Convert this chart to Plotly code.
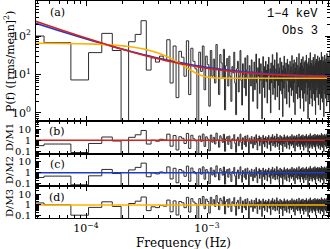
import numpy as np
import plotly.graph_objects as go

# ---------------- data ----------------
df_hz = 3.0e-5            # frequency resolution (1/T)
power = [
    100, 67, 7.2, 37, 117, 42, 0.3, 71, 110, 250, 13, 27, 21, 30,
    24, 80, 6, 55, 2.5, 40, 28, 9, 75, 3, 48, 22, 14, 0.4, 38,
    12, 55, 4, 30, 18, 1.5, 42, 9, 25, 6, 60, 14, 3, 33, 20, 8, 45, 1.2, 17, 26,
    5, 30, 9, 2, 16, 11, 38, 6, 0.9, 14, 22, 3.5, 9, 42, 7, 1.6, 19, 10, 4.5, 27, 2.8, 13, 31, 8, 0.5, 17, 10, 5, 24, 12,
    2, 8, 21, 4, 11, 34, 6, 1.3, 15, 9, 26, 3.2, 7, 19, 12, 0.7, 10, 29, 4.6, 16, 2.5, 8, 22, 6.5, 13, 1.8, 18, 9.5, 28, 4, 7.5, 14, 1, 20, 6, 11, 33, 3, 9, 17,
    4.5, 24, 2.2, 10, 14, 6.8, 37, 2.6, 8, 19, 5.2, 12, 1.2, 15, 27, 3.8, 9.8, 6.6, 21, 3.1, 13, 0.8, 17, 8.2, 4.4, 30, 10.5, 2.4, 14.5, 7.3, 20, 5.4, 1.7, 11.5, 25, 6.9, 9, 3.5, 18, 13.5,
    1.4, 8.4, 22, 4.6, 10.8, 16, 2.8, 6.9, 31, 9.7, 3.9, 12.8, 19, 1.9, 7.6, 24, 6.1, 11.4, 0.9, 14.6, 9.1, 20.5, 3.2, 5.4, 28, 12.2, 7.5, 2.3, 17.5, 9.9, 4.7, 13.6, 35, 2.5, 8.3, 15.4, 6.1, 1.3, 20, 10.6,
    6.8, 25, 3.9, 12.1, 16.8, 2.4, 9.2, 29, 5.4, 14.5, 1.1, 10.7, 20.6, 7.6, 3.2, 16, 23, 4.6, 9.9, 2, 13, 32, 6.1, 8.4, 19, 3, 11.4, 15.2, 0.7, 21.3, 9.1, 4.6, 26.6, 12.2, 6.9, 1.7, 17.5, 10.6, 37, 3.9,
    8.4, 14.5, 2.4, 19.8, 9.9, 6.1, 23.6, 1.5, 12.9, 16.8, 4.6, 7.6, 28, 3.1, 11.4, 18.3, 6.9, 2.1, 15.2, 9.1, 33.5, 5.4, 12.2, 0.9, 21.3, 8.4, 3.9, 25, 13.7, 6.1, 9.9, 2.5, 19, 11.4, 30.4, 4.6, 7.6, 16, 1.6, 22,
    10.6, 5.4, 13.7, 27.4, 3.1, 9.1, 18.3, 6.9, 1.2, 23.6, 12.2, 4.6, 15.2, 8.4, 38, 2.4, 10.6, 20.6, 6.1, 12.9, 1.9, 16.8, 29, 7.6, 3.9, 14.5, 9.9, 22.8, 0.8, 11.4, 19, 5.4, 9.1, 32, 3.1, 13.7, 6.9, 21.3, 2.4, 16,
    8.4, 25.8, 4.6, 12.2, 18.3, 1.5, 9.9, 35, 6.1, 14.5, 3.1, 20.6, 10.6, 7.6, 29, 2.1, 12.9, 16.8, 5.4, 23.6, 9.1, 3.9, 19.8, 11.4, 1, 15.2, 42, 6.9, 10.6, 2.7, 22, 13.7, 4.6, 17.5, 8.4, 30.4, 1.6, 12.2, 19, 6.1,
]
freq = df_hz * np.arange(1, len(power) + 1)

# model parameters
m1_norm, m1_index, m1_const = 2.65e-3, 1.12, 8.4          # power law + constant
m2_norm, m2_index, m2_const = 5.45e-3, 1.036, 8.4         # power law + constant
m3_amp, m3_width, m3_const = 57.0, 4.7e-4, 8.0           # low-frequency hump + constant

x_tick_vals = [1e-4, 1e-3, 1e-2]
x_tick_text = ["10<sup>\u22124</sup>", "10<sup>\u22123</sup>", "10<sup>\u22122</sup>"]
ya_tick_vals = [1, 10, 100]
ya_tick_text = ["10<sup>0</sup>", "10<sup>1</sup>", "10<sup>2</sup>"]
yr_tick_vals = [0.1, 1, 10]
yr_tick_text = ["0.1", "1", "10"]

RED = "rgb(214,32,32)"
BLUE = "rgb(30,60,200)"
ORANGE = "rgb(255,176,0)"
DATA_C = "rgb(45,45,45)"
FONT = "DejaVu Serif"
MONO = "Liberation Mono"

P = np.array(power, dtype=float)
m1 = m1_norm * freq ** (-m1_index) + m1_const
m2 = m2_norm * freq ** (-m2_index) + m2_const
m3 = m3_amp * np.exp(-(freq / m3_width) ** 2) + m3_const

# histogram-style steps: each bin spans halfway to its neighbours
step_x = np.concatenate([freq - df_hz / 2, [freq[-1] + df_hz / 2]])
def steps(vals):
    return np.concatenate([vals, [vals[-1]]])

fig = go.Figure()

def add(x, y, color, width, ax, shape="linear"):
    fig.add_trace(go.Scatter(x=x, y=y, mode="lines",
                             line=dict(color=color, width=width, shape=shape, simplify=False),
                             xaxis="x" if ax == 1 else f"x{ax}", yaxis="y" if ax == 1 else f"y{ax}",
                             showlegend=False, hoverinfo="skip"))

# panel (a)
add(step_x, steps(P), DATA_C, 1, 1, "hv")
add(freq, m2, BLUE, 1.6, 1)
add(freq, m3, ORANGE, 1.6, 1)
add(freq, m1, RED, 1.6, 1)
# ratio panels
for ax, m, c in [(2, m1, RED), (3, m2, BLUE), (4, m3, ORANGE)]:
    add(step_x, steps(P / m), DATA_C, 1, ax, "hv")
    add(freq, np.ones_like(freq), c, 1.6, ax)

W, H = 330, 249
L, R, T, B = 36, 0, 1, 31
ph = H - T - B
def yp(py):
    return (H - B - py) / ph
def xp(px):
    return (px - L) / (W - L - R)

xr = [-4.4132, -1.9835]
minor_x = [m * 10.0 ** e for e in (-5, -4, -3, -2) for m in range(2, 10)]
minor_ya = [m * 10.0 ** e for e in (-1, 0, 1, 2) for m in range(2, 10)]
minor_yr = [m * 10.0 ** e for e in (-2, -1, 0, 1) for m in range(2, 10)]

def xaxis(show_labels):
    return dict(type="log", range=xr, showline=True, linecolor="black", linewidth=1, mirror="ticks",
                ticks="inside", ticklen=5, tickcolor="black", tickmode="array",
                tickvals=x_tick_vals, ticktext=x_tick_text, showticklabels=show_labels,
                minor=dict(tickmode="array", tickvals=minor_x, ticks="inside", ticklen=3, tickcolor="black"),
                showgrid=False, zeroline=False, tickfont=dict(family=FONT, size=11, color="black"))

def yaxis(dom, rng, tv, tt, mv, anchor, fs):
    return dict(type="log", domain=dom, range=rng, showline=True, linecolor="black", linewidth=1, mirror="ticks",
                ticks="inside", ticklen=5, tickcolor="black", tickmode="array", tickvals=tv, ticktext=tt,
                minor=dict(tickmode="array", tickvals=mv, ticks="inside", ticklen=3, tickcolor="black"),
                showgrid=False, zeroline=False, anchor=anchor, ticklabelstandoff=2,
                tickfont=dict(family=FONT, size=fs, color="black"))

fig.update_layout(
    width=W, height=H, margin=dict(l=L, r=R, t=T, b=B), plot_bgcolor="white", paper_bgcolor="white",
    xaxis=xaxis(False) | dict(anchor="y"),
    xaxis2=xaxis(False) | dict(anchor="y2", matches="x"),
    xaxis3=xaxis(False) | dict(anchor="y3", matches="x"),
    xaxis4=xaxis(True) | dict(anchor="y4", matches="x"),
    yaxis=yaxis([yp(121), 1], [-0.21, 2.91], ya_tick_vals, ya_tick_text, minor_ya, "x", 11),
    yaxis2=yaxis([yp(154), yp(121)], [-1.27, 1.77], yr_tick_vals, yr_tick_text, minor_yr, "x2", 10),
    yaxis3=yaxis([yp(186), yp(154)], [-1.22, 1.72], yr_tick_vals, yr_tick_text, minor_yr, "x3", 10),
    yaxis4=yaxis([0, yp(186)], [-1.2, 1.75], yr_tick_vals, yr_tick_text, minor_yr, "x4", 10),
)

def ann(text, px, py, size=11, angle=0, xanchor="center", family=FONT):
    fig.add_annotation(text=text, x=xp(px), y=yp(py), xref="paper", yref="paper", showarrow=False,
                       textangle=angle, xanchor=xanchor, yanchor="middle",
                       font=dict(family=family, size=size, color="black"))

ann("(a)", 57, 12)
ann("(b)", 57, 131)
ann("(c)", 57, 164)
ann("(d)", 57, 197)
ann("1\u22124 keV", 320, 14, 12, xanchor="right", family=MONO)
ann("Obs 3", 320, 31, 12, xanchor="right", family=MONO)
ann("P(f) ([rms/mean]<sup>2</sup>)", 9, 62, 11, -90)
ann("D/M1", 9, 137, 10, -90)
ann("D/M2", 9, 170, 10, -90)
ann("D/M3", 9, 203, 10, -90)
ann("Frequency (Hz)", 183, 243, 12)

fig.write_html("out.html", config={"displayModeBar": False},
               post_script="document.body.style.margin='0';document.body.style.overflow='hidden';")
